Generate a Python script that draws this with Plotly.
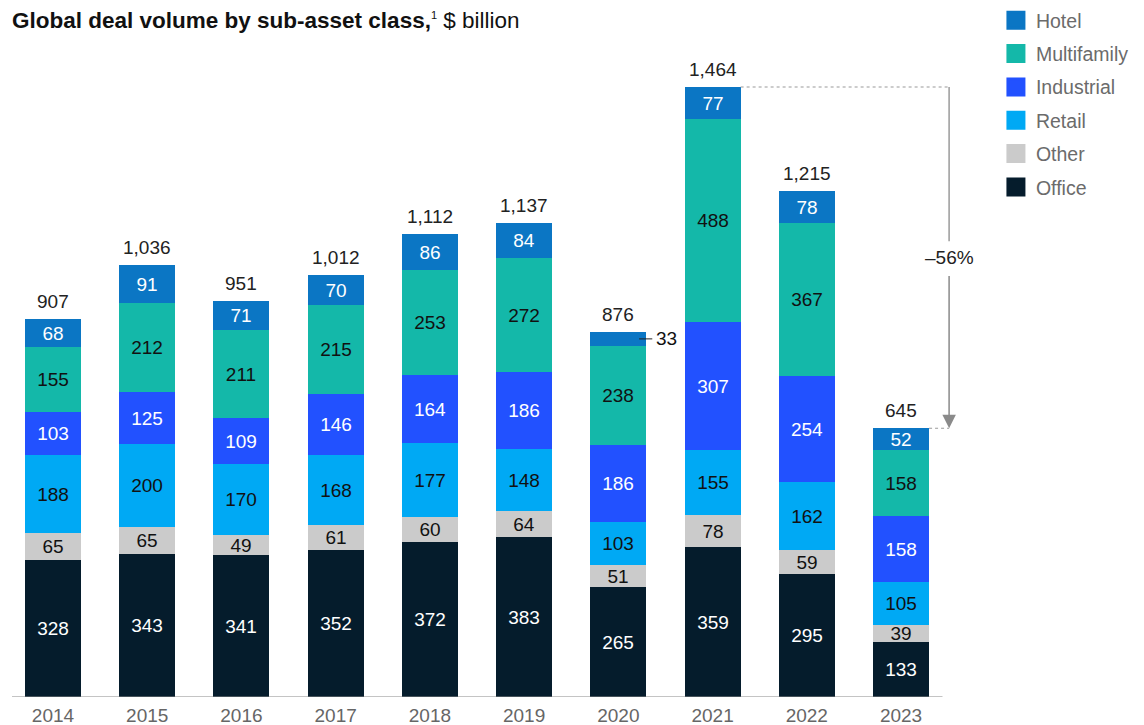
import plotly.graph_objects as go

years = ["2014", "2015", "2016", "2017", "2018", "2019", "2020", "2021", "2022", "2023"]
office = [328, 343, 341, 352, 372, 383, 265, 359, 295, 133]
other = [65, 65, 49, 61, 60, 64, 51, 78, 59, 39]
retail = [188, 200, 170, 168, 177, 148, 103, 155, 162, 105]
industrial = [103, 125, 109, 146, 164, 186, 186, 307, 254, 158]
multifamily = [155, 212, 211, 215, 253, 272, 238, 488, 367, 158]
hotel = [68, 91, 71, 70, 86, 84, 33, 77, 78, 52]
totals = [907, 1036, 951, 1012, 1112, 1137, 876, 1464, 1215, 645]
outside_hotel_index = 6  # 2020 hotel label shown beside the bar
change_label = "–56%"

series = [
    ("Office", office, "#051c2c", "white"),
    ("Other", other, "#cbcbcb", "#111111"),
    ("Retail", retail, "#00a9f4", "#111111"),
    ("Industrial", industrial, "#2251ff", "white"),
    ("Multifamily", multifamily, "#14b8a9", "#111111"),
    ("Hotel", hotel, "#0b76c4", "white"),
]

FONT = "Liberation Sans, Arial, sans-serif"
BAR_W = 0.595
x = list(range(len(years)))

fig = go.Figure()
for name, vals, color, tcol in series:
    labels = [str(v) for v in vals]
    if name == "Hotel":
        labels[outside_hotel_index] = ""
    fig.add_trace(go.Bar(
        x=x, y=vals, name=name, width=BAR_W,
        marker=dict(color=color, line=dict(width=0)),
        text=labels, textposition="inside", insidetextanchor="middle",
        textangle=0, constraintext="none",
        textfont=dict(family=FONT, size=19, color=tcol),
        showlegend=False, hoverinfo="skip",
    ))

# totals above bars
for xi, t in zip(x, totals):
    fig.add_annotation(x=xi, y=t, text=f"{t:,}", showarrow=False,
                       xanchor="center", yanchor="bottom", yshift=5,
                       font=dict(family=FONT, size=19, color="#222222"))

# legend entries (top to bottom)
for name, vals, color, tcol in reversed(series):
    fig.add_trace(go.Scatter(
        x=[None], y=[None], mode="markers", name=name,
        marker=dict(symbol="square", size=16, color=color,
                    line=dict(color=color, width=3)),
        legendgroup=name, showlegend=True,
    ))

# baseline
fig.add_shape(type="line", x0=-0.435, x1=9.44, y0=0, y1=0,
              line=dict(color="#8a8a8a", width=1.2), layer="above")

# 2020 hotel outside label
i20 = outside_hotel_index
yh = totals[i20] - hotel[i20] / 2
fig.add_shape(type="line", x0=i20 + 0.22, x1=i20 + 0.36, y0=yh, y1=yh,
              line=dict(color="#222222", width=1), layer="above")
fig.add_annotation(x=i20 + 0.38, y=yh, text=str(hotel[i20]), showarrow=False,
                   xanchor="left", yanchor="middle",
                   font=dict(family=FONT, size=19, color="#111111"))

# -56% bracket
i21, i23 = 7, 9
xv = 9.51
fig.add_shape(type="line", x0=i21 + BAR_W / 2, x1=xv, y0=totals[i21], y1=totals[i21],
              line=dict(color="#9a9a9a", width=1.2, dash="dot"))
fig.add_shape(type="line", x0=i23 + BAR_W / 2, x1=xv, y0=totals[i23], y1=totals[i23],
              line=dict(color="#9a9a9a", width=1.2, dash="dot"))
label_y = 1054
fig.add_shape(type="line", x0=xv, x1=xv, y0=totals[i21], y1=label_y + 40,
              line=dict(color="#9a9a9a", width=1.5))
fig.add_annotation(x=xv, y=totals[i23], ax=xv, ay=label_y - 40,
                   axref="x", ayref="y", xref="x", yref="y",
                   showarrow=True, arrowhead=2, arrowsize=1.8, arrowwidth=1.5,
                   arrowcolor="#8a8a8a", text="")
fig.add_annotation(x=xv, y=label_y, text=change_label, showarrow=False,
                   xanchor="center", yanchor="middle",
                   font=dict(family=FONT, size=19, color="#222222"))

# title
fig.add_annotation(
    xref="paper", yref="paper", x=0, y=1.0, yshift=40, xshift=-2,
    text=("<b>Global deal volume by sub-asset class,</b>"
          "<sup><span style='font-size:11px'>1</span></sup> $ billion"),
    showarrow=False, xanchor="left", yanchor="middle",
    font=dict(family=FONT, size=22.5, color="#111111"),
)

ymax = (689 - 52) / (610 / 1464)
fig.update_layout(
    width=1136, height=717,
    margin=dict(l=4, r=177, t=52, b=28, autoexpand=False),
    paper_bgcolor="white", plot_bgcolor="white",
    barmode="stack", bargap=0,
    font=dict(family=FONT),
    xaxis=dict(range=[-0.435, 9.7], tickvals=x, ticktext=years,
               showgrid=False, zeroline=False, showline=False, ticks="",
               tickfont=dict(family=FONT, size=19, color="#666666"),
               ticklabelstandoff=5, fixedrange=True),
    yaxis=dict(range=[0, ymax], visible=False, showgrid=False, zeroline=False,
               fixedrange=True),
    legend=dict(x=1.0303, xanchor="left", y=1.0926, yanchor="top",
                font=dict(family=FONT, size=19.5, color="#6b6b6b"),
                tracegroupgap=5, bgcolor="rgba(0,0,0,0)",
                itemclick=False, itemdoubleclick=False),
    showlegend=True,
)

fig.write_html("out.html")
